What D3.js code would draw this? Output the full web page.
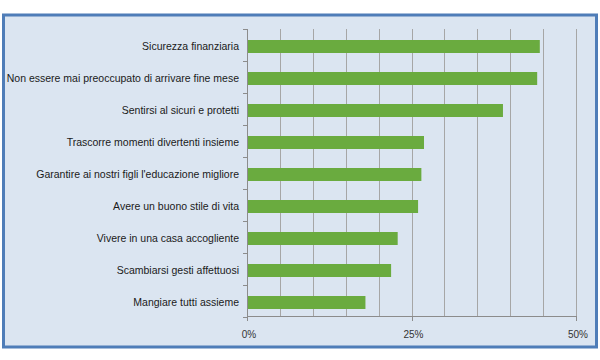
<!DOCTYPE html>
<html><head><meta charset="utf-8">
<script src="https://cdn.jsdelivr.net/npm/d3@7"></script>
<style>body{margin:0;background:#fff}svg{display:block}</style>
</head><body><svg id="c" width="600" height="360"></svg>
<script>
const categories = ["Sicurezza finanziaria","Non essere mai preoccupato di arrivare fine mese","Sentirsi al sicuri e protetti","Trascorre momenti divertenti insieme","Garantire ai nostri figli l'educazione migliore","Avere un buono stile di vita","Vivere in una casa accogliente","Scambiarsi gesti affettuosi","Mangiare tutti assieme"];
const values = [44.5, 44.1, 38.9, 26.9, 26.5, 26.0, 22.9, 21.9, 18.0];
const tickValues = [0, 25, 50];
const gridValues = [0,5,10,15,20,25,30,35,40,45,50];

const svg = d3.select("#c");
const W = 600, H = 360;
// outer frame
svg.append("rect").attr("x",3.5).attr("y",15).attr("width",593).attr("height",332)
  .attr("fill","#dbe5f1").attr("stroke","#4f7db8").attr("stroke-width",3);

const x = d3.scaleLinear().domain([0,50]).range([247,576]);
const y = d3.scaleBand().domain(categories).range([29,317]).paddingInner(0.59).paddingOuter(0.3);
const yb = d3.scaleBand().domain(categories).range([29,317]);

const g = svg.append("g");
g.selectAll("line.grid").data(gridValues.slice(1)).join("line")
  .attr("x1",d=>Math.round(x(d))+0.5).attr("x2",d=>Math.round(x(d))+0.5)
  .attr("y1",29).attr("y2",317).attr("stroke","#a6a6a6").attr("stroke-width",1);

g.selectAll("rect.bar").data(values).join("rect")
  .attr("x",x(0)).attr("y",(d,i)=>yb(categories[i])+11)
  .attr("width",d=>x(d)-x(0)).attr("height",13).attr("fill","#6aab3f");

// left axis
const ax = svg.append("g").attr("font-family","'Liberation Sans', Arial, sans-serif");
ax.append("line").attr("x1",247.5).attr("x2",247.5).attr("y1",29).attr("y2",317).attr("stroke","#8c8c8c");
const bounds = [...categories.map(c=>yb(c)), 317];
ax.selectAll("line.yt").data(bounds).join("line")
  .attr("x1",243).attr("x2",248).attr("y1",d=>Math.round(d)+0.5).attr("y2",d=>Math.round(d)+0.5).attr("stroke","#8c8c8c");
ax.selectAll("text.yl").data(categories).join("text")
  .attr("x",239).attr("y",c=>yb(c)+yb.bandwidth()/2+1).attr("dy","0.35em")
  .attr("text-anchor","end").attr("font-size",10.5).attr("fill","#1a1a1a").text(c=>c);

// bottom axis
ax.append("line").attr("x1",247).attr("x2",576.5).attr("y1",316.5).attr("y2",316.5).attr("stroke","#8c8c8c");
ax.selectAll("line.xt").data(tickValues).join("line")
  .attr("x1",d=>Math.round(x(d))+0.5).attr("x2",d=>Math.round(x(d))+0.5).attr("y1",316).attr("y2",321).attr("stroke","#8c8c8c");
ax.selectAll("text.xl").data(tickValues).join("text")
  .attr("x",d=>x(d)+2).attr("y",334).attr("dy","0.35em").attr("text-anchor","middle")
  .attr("font-size",10).attr("fill","#333").text(d=>d+"%");
</script></body></html>
